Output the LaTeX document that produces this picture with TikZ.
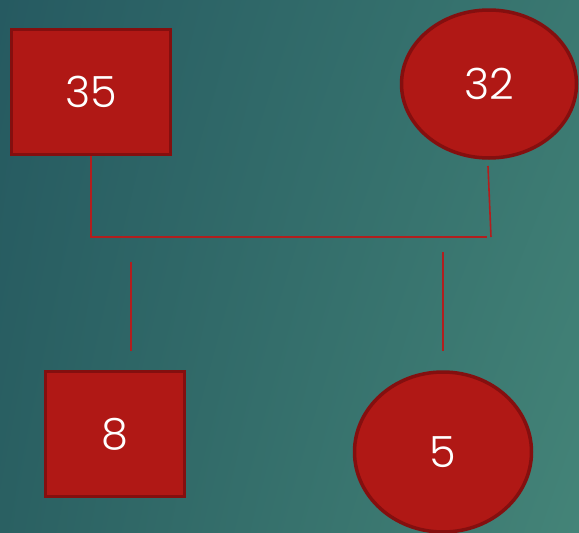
\documentclass[tikz,border=0pt]{standalone}
\usepackage{fontspec}
\setmainfont{Poppins Light}
\usetikzlibrary{positioning,shapes.geometric,shadings}
\definecolor{tealdark}{RGB}{38,90,97}
\definecolor{tealleft}{RGB}{42,96,98}
\definecolor{tealmid}{RGB}{58,120,113}
\definecolor{teallight}{RGB}{68,132,120}
\definecolor{boxred}{RGB}{176,24,21}
\definecolor{edgered}{RGB}{132,15,15}
\definecolor{linered}{RGB}{178,30,30}

\begin{document}
\begin{tikzpicture}[x=1pt,y=-1pt]
\tikzstyle{main}=[fill=boxred, draw=edgered, line width=3.5pt, text=white, inner sep=0pt, font=\fontsize{43}{48}\selectfont]
\tikzstyle{square}=[main, rectangle]
\tikzstyle{oval}=[main, ellipse]
\tikzstyle{connect}=[linered, line width=1.6pt]
\shade[upper left=tealdark, upper right=tealmid, lower left=tealleft, lower right=teallight] (0,0) rectangle (579,533);
\useasboundingbox (0,0) rectangle (579,533);
\node[square, minimum width=159pt, minimum height=125pt] (N35) at (91,92) {35};
\node[oval, minimum width=175pt, minimum height=148pt] (N32) at (489,84) {32};
\node[square, minimum width=139pt, minimum height=125pt] (N8) at (115,434) {8};
\node[oval, minimum width=177pt, minimum height=160pt] (N5) at (443,452) {5};
\coordinate (JoinL) at (91,237);
\coordinate (JoinR) at (487,237);
\coordinate (Top32) at (488,166);
\coordinate (Foot32) at (491,237);
\coordinate (Top8) at (131,262);
\coordinate (Foot8) at (131,351);
\coordinate (Top5) at (443,252);
\coordinate (Foot5) at (443,351);
  \draw[connect] (N35.south) -- (JoinL) -- (JoinR);
  \draw[connect] (Top32) -- (Foot32);
  \draw[connect] (Top8) -- (Foot8);
  \draw[connect] (Top5) -- (Foot5);
\end{tikzpicture}
\end{document}
